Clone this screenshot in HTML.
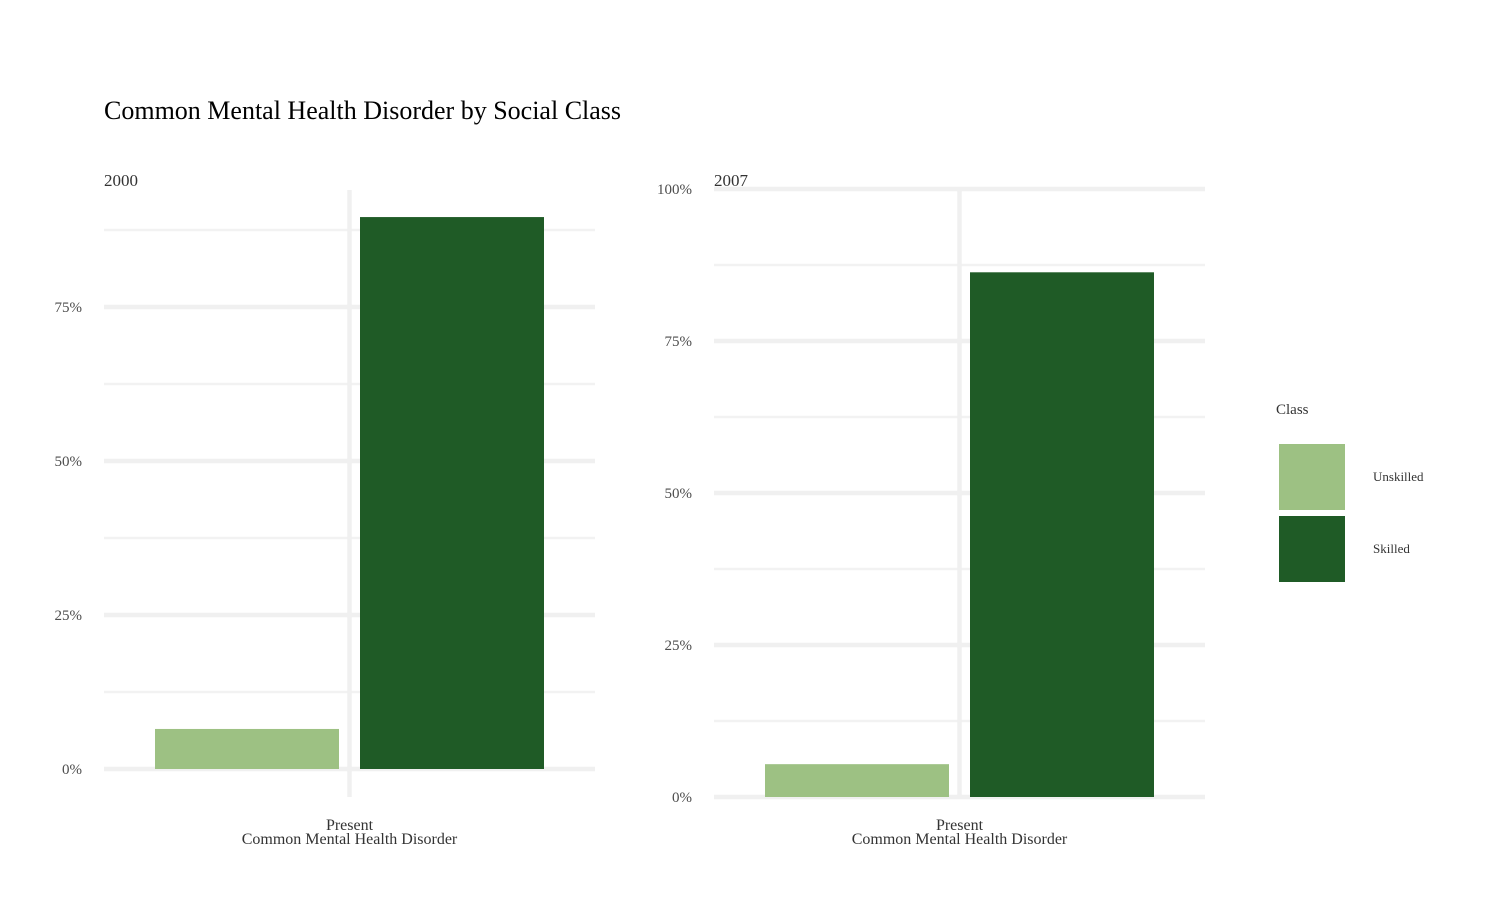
<!DOCTYPE html>
<html><head><meta charset="utf-8"><style>
body{margin:0;background:#fff}
svg{display:block;font-family:"Liberation Serif",serif}
</style></head><body>
<svg id="chart" width="1500" height="900">
<text x="104" y="119" font-size="26" fill="#000">Common Mental Health Disorder by Social Class</text>
<g id="panels"></g>
<g>
<text x="1276" y="414" font-size="15" fill="#333">Class</text>
<rect x="1279" y="444" width="66" height="66" fill="#9dc183"/>
<text x="1373" y="481" font-size="13" fill="#333">Unskilled</text>
<rect x="1279" y="516" width="66" height="66" fill="#1f5b26"/>
<text x="1373" y="553" font-size="13" fill="#333">Skilled</text>
</g>
</svg>
<script>
const years = ["2000", "2007"];
const unskilled = [6.5, 5.4];
const skilled = [89.6, 86.3];
const yTicks = [[0,25,50,75],[0,25,50,75,100]];
const tickLabels = [["0%","25%","50%","75%"],["0%","25%","50%","75%","100%"]];
const category = "Present";
const xTitle = "Common Mental Health Disorder";

const layouts = [{x0:104,x1:595,yZero:769,yFull:153,top:190,bottom:797},
                 {x0:714,x1:1205,yZero:797,yFull:189,top:190,bottom:797}];
const NS="http://www.w3.org/2000/svg";
const root=document.getElementById('panels');
function mk(tag,attrs,parent){const e=document.createElementNS(NS,tag);for(const k in attrs)e.setAttribute(k,attrs[k]);parent.appendChild(e);return e;}
years.forEach((yr,i)=>{
  const L=layouts[i];
  const g=mk('g',{},root);
  
  
  const y=v=>L.yZero-(v/100)*(L.yZero-L.yFull);
  for(let k=0;k<4;k++){
    const v=12.5+25*k;
    const yy=y(v);
    if(yy>=L.top-2){const l=mk('line',{x1:L.x0,x2:L.x1,y1:yy,y2:yy,stroke:'#f2f2f2','stroke-width':2.5},g);
      
      }
  }
  const ticks=yTicks[i];
  ticks.forEach((t,j)=>{
    const yy=y(t);
    const l=mk('line',{x1:L.x0,x2:L.x1,y1:yy,y2:yy,stroke:'#f0f0f0','stroke-width':4.5},g);
    
    
    const tx=mk('text',{x:L.x0-22,y:yy+5,'font-size':15,fill:'#4d4d4d','text-anchor':'end'},g);
    tx.textContent=tickLabels[i][j];
    
    
  });
  const cx=(L.x0+L.x1)/2;
  const vl=mk('line',{x1:cx,x2:cx,y1:L.top,y2:L.bottom,stroke:'#f0f0f0','stroke-width':4.5},g);
  
  
  const bw=184;
  const b1=mk('rect',{x:cx-10.5-bw,y:y(unskilled[i]),width:bw,height:L.yZero-y(unskilled[i]),fill:'#9dc183'},g);
  
  
  const b2=mk('rect',{x:cx+10.5,y:y(skilled[i]),width:bw,height:L.yZero-y(skilled[i]),fill:'#1f5b26'},g);
  
  
  const st=mk('text',{x:L.x0,y:186,'font-size':17,fill:'#333'},g);
  st.textContent=yr;
  
  
  const xl=mk('text',{x:cx,y:830,'font-size':16,fill:'#333','text-anchor':'middle'},g);
  xl.textContent=category;
  
  
  const xt=mk('text',{x:cx,y:844,'font-size':16,fill:'#333','text-anchor':'middle'},g);
  xt.textContent=xTitle;
  
  
});
</script>
</body></html>
